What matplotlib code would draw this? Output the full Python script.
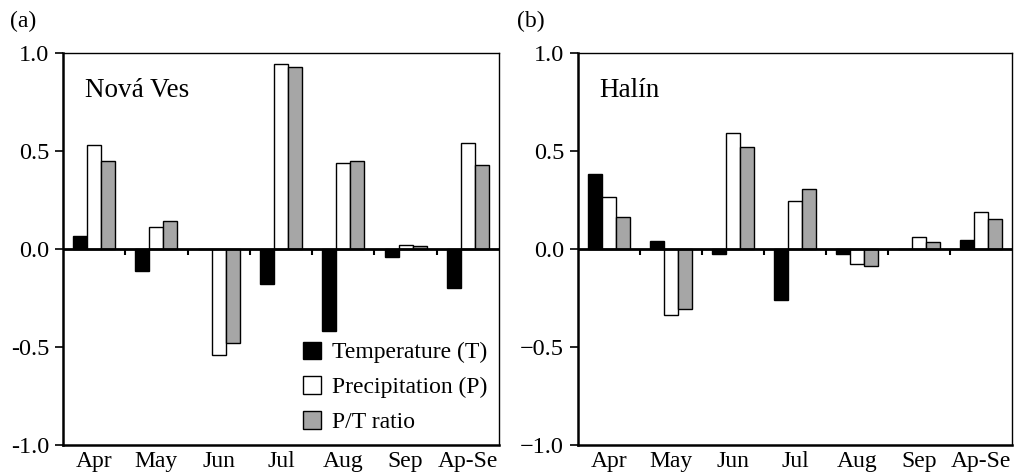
import numpy as np
import matplotlib
matplotlib.use("Agg")
import matplotlib.pyplot as plt
from matplotlib.patches import Patch

plt.rcParams['font.family'] = ['Liberation Serif', 'DejaVu Serif']

months = ["Apr", "May", "Jun", "Jul", "Aug", "Sep", "Ap-Se"]
series_names = ["Temperature (T)", "Precipitation (P)", "P/T ratio"]

nova_T = [0.065, -0.11, 0.0, -0.18, -0.42, -0.04, -0.20]
nova_P = [0.53, 0.11, -0.54, 0.945, 0.44, 0.022, 0.54]
nova_PT = [0.45, 0.145, -0.48, 0.93, 0.447, 0.013, 0.428]

halin_T = [0.384, 0.041, -0.024, -0.26, -0.025, 0.0, 0.047]
halin_P = [0.267, -0.337, 0.59, 0.245, -0.077, 0.061, 0.189]
halin_PT = [0.165, -0.305, 0.518, 0.304, -0.089, 0.036, 0.153]

ytick_vals = [-1.0, -0.5, 0.0, 0.5, 1.0]
ylabels_a = ["-1.0", "-0.5", "0.0", "0.5", "1.0"]
ylabels_b = ["\u22121.0", "\u22120.5", "0.0", "0.5", "1.0"]

colors = ["black", "white", "#a6a6a6"]

fig = plt.figure(figsize=(10.14, 4.75), dpi=100)
ax_a = fig.add_axes([0.0621, 0.0632, 0.430, 0.8252])
ax_b = fig.add_axes([0.570, 0.0632, 0.428, 0.8252])

FS = 17
bw = 0.225

def draw(ax, data, ylabels, site):
    x = np.arange(len(months))
    for k, (vals, c) in enumerate(zip(data, colors)):
        ax.bar(x + (k - 1) * bw, vals, width=bw, color=c, edgecolor="black",
               linewidth=1.0, zorder=2)
    ax.set_xlim(-0.5, len(months) - 0.5)
    ax.set_ylim(-1.0, 1.0)
    ax.axhline(0, color="black", linewidth=2.0, zorder=3)
    bounds = np.arange(1, len(months)) - 0.5
    ax.vlines(bounds, -0.03, 0, color="black", linewidth=1.5, zorder=3)
    ax.set_xticks(x)
    ax.set_xticklabels(months, fontsize=FS)
    ax.tick_params(axis="x", length=0, pad=4)
    ax.set_yticks(ytick_vals)
    ax.set_yticklabels(ylabels, fontsize=FS + 0.5)
    ax.tick_params(axis="y", direction="out", length=6, width=1.2, pad=4)
    for s in ["left", "bottom"]:
        ax.spines[s].set_linewidth(1.8)
    for s in ["top", "right"]:
        ax.spines[s].set_linewidth(1.0)
    ax.text(0.05, 0.935, site, transform=ax.transAxes, fontsize=FS + 2.5,
            va="top", ha="left")

draw(ax_a, [nova_T, nova_P, nova_PT], ylabels_a, "Nová Ves")
draw(ax_b, [halin_T, halin_P, halin_PT], ylabels_b, "Halín")

handles = [Patch(facecolor=c, edgecolor="black", linewidth=1.0) for c in colors]
ax_a.legend(handles, series_names, loc="lower right", bbox_to_anchor=(1.0, 0.0),
            frameon=False, fontsize=FS, handlelength=0.75, handleheight=0.75,
            handletextpad=0.45, labelspacing=0.55, borderaxespad=0.1)

fig.text(0.010, 0.955, "(a)", fontsize=FS, va="center", ha="left")
fig.text(0.510, 0.955, "(b)", fontsize=FS, va="center", ha="left")

fig.savefig("out.png", dpi=100)
